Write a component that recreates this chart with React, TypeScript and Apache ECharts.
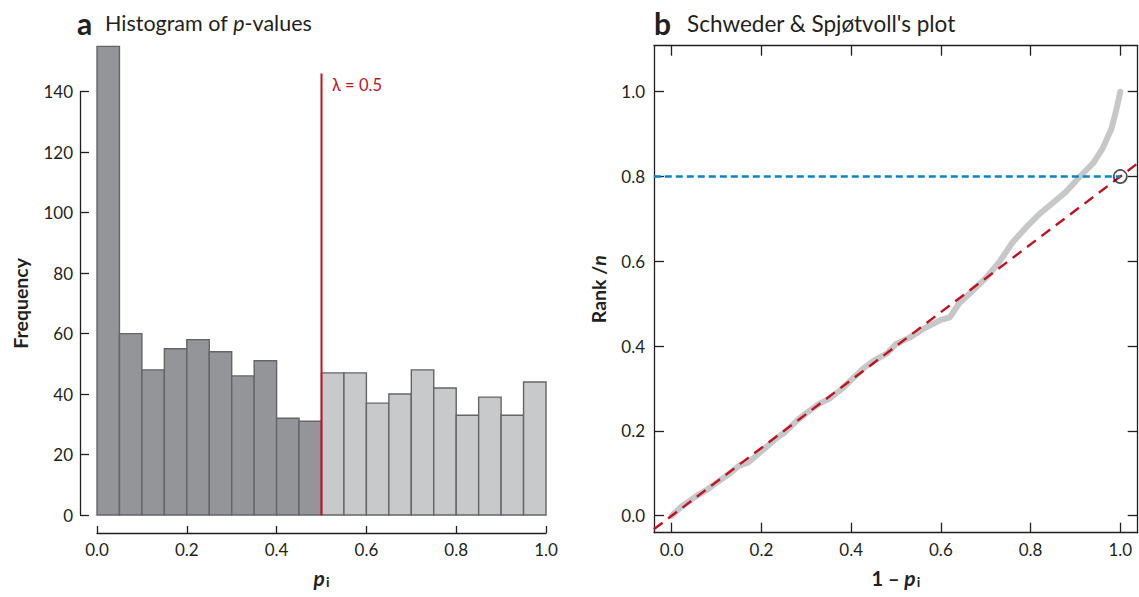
import React, { useEffect, useRef } from "react";
import * as echarts from "echarts";

// ---------- data ----------
const binLefts = [0, 0.05, 0.1, 0.15, 0.2, 0.25, 0.3, 0.35, 0.4, 0.45, 0.5, 0.55, 0.6, 0.65, 0.7, 0.75, 0.8, 0.85, 0.9, 0.95];
const binWidth = 0.05;
const frequencies = [155, 60, 48, 55, 58, 54, 46, 51, 32, 31, 47, 47, 37, 40, 48, 42, 33, 39, 33, 44];
const lambda = 0.5;
const lambdaLineTop = 146;
const freqTicks = [0, 20, 40, 60, 80, 100, 120, 140];
const pTicks = [0, 0.2, 0.4, 0.6, 0.8, 1.0];
const rankTicks = [0, 0.2, 0.4, 0.6, 0.8, 1.0];

const oneMinusP = [0, 0.02, 0.04, 0.06, 0.08, 0.1, 0.13, 0.15, 0.17, 0.2, 0.23, 0.25, 0.28, 0.3, 0.33, 0.35, 0.38, 0.4, 0.43, 0.45, 0.48, 0.5, 0.53, 0.56, 0.6, 0.62, 0.64, 0.67, 0.7, 0.73, 0.76, 0.79, 0.82, 0.85, 0.88, 0.91, 0.94, 0.96, 0.98, 0.99, 1.0];
const rankOverN = [0, 0.02, 0.035, 0.05, 0.062, 0.078, 0.1, 0.118, 0.125, 0.152, 0.18, 0.195, 0.225, 0.242, 0.265, 0.275, 0.3, 0.32, 0.35, 0.365, 0.383, 0.405, 0.42, 0.44, 0.462, 0.468, 0.5, 0.53, 0.56, 0.598, 0.645, 0.68, 0.712, 0.738, 0.765, 0.8, 0.832, 0.865, 0.912, 0.952, 1.0];
const refLine = [[-0.04, -0.032], [1.04, 0.832]];
const thresholdLine = [[-0.04, 0.8], [1.0, 0.8]];
const markedPoint = [1.0, 0.8];

const rightX = { min: -0.0395, max: 1.0388 };
const rightY = { min: -0.04, max: 1.1085 };

const FONT = "Lato";
const INK = "#231f20";
const RED = "#c1121f";
const BLUE = "#0a84c8";

export default function App() {
  const ref = useRef<HTMLDivElement>(null);
  useEffect(() => {
    document.body.style.margin = "0";
    const chart = echarts.init(ref.current!, null, { renderer: "svg" });

    const axisLineStyle = { color: INK, width: 1.3 };
    const tickLabel = { color: INK, fontSize: 17, fontFamily: FONT };

    const option: any = {
      animation: false,
      textStyle: { fontFamily: FONT },
      grid: [
        { left: 97, right: 593, top: 91.7, bottom: 82, containLabel: false },
        { left: 654, right: 1.3, top: 45.7, bottom: 64.3, containLabel: false },
      ],
      xAxis: [
        {
          gridIndex: 0, type: "value", min: 0, max: 1, interval: 0.2, offset: 18,
          axisLine: { show: true, onZero: false, lineStyle: axisLineStyle },
          axisTick: { show: true, inside: true, length: 7, lineStyle: axisLineStyle },
          axisLabel: { ...tickLabel, margin: 8, formatter: (v: number) => v.toFixed(1) },
          splitLine: { show: false },
          name: "{p|p}{s|i}", nameLocation: "middle", nameGap: 33,
          nameTextStyle: {
            rich: {
              p: { fontSize: 21, fontWeight: "bold", fontStyle: "italic", color: INK, fontFamily: FONT },
              s: { fontSize: 14, fontWeight: "bold", color: INK, fontFamily: FONT, padding: [8, 0, 0, 1] },
            },
          },
        },
        {
          gridIndex: 1, type: "value", min: rightX.min, max: rightX.max, position: "bottom",
          axisLine: { show: true, onZero: false, lineStyle: axisLineStyle },
          axisTick: { show: true, inside: true, length: 10, lineStyle: axisLineStyle, customValues: pTicks },
          axisLabel: { ...tickLabel, margin: 8, customValues: pTicks, formatter: (v: number) => v.toFixed(1) },
          splitLine: { show: false },
          name: "{t|1 – }{p|p}{s|i}", nameLocation: "middle", nameGap: 34,
          nameTextStyle: {
            rich: {
              t: { fontSize: 20, fontWeight: "bold", color: INK, fontFamily: FONT },
              p: { fontSize: 21, fontWeight: "bold", fontStyle: "italic", color: INK, fontFamily: FONT },
              s: { fontSize: 14, fontWeight: "bold", color: INK, fontFamily: FONT, padding: [8, 0, 0, 1] },
            },
          },
        },
        {
          gridIndex: 1, type: "value", min: rightX.min, max: rightX.max, position: "top",
          axisLine: { show: true, onZero: false, lineStyle: axisLineStyle },
          axisTick: { show: true, inside: true, length: 10, lineStyle: axisLineStyle, customValues: pTicks },
          axisLabel: { show: false },
          splitLine: { show: false },
        },
      ],
      yAxis: [
        {
          gridIndex: 0, type: "value", min: 0, max: 140, interval: 20, offset: 17,
          axisLine: { show: true, onZero: false, lineStyle: axisLineStyle },
          axisTick: { show: true, inside: true, length: 9, lineStyle: axisLineStyle },
          axisLabel: { ...tickLabel, margin: 7 },
          splitLine: { show: false },
          name: "Frequency", nameLocation: "middle", nameGap: 50, nameRotate: 90,
          nameTextStyle: { fontSize: 19.5, fontWeight: "bold", color: INK, fontFamily: FONT },
        },
        {
          gridIndex: 1, type: "value", min: rightY.min, max: rightY.max, position: "left",
          axisLine: { show: true, onZero: false, lineStyle: axisLineStyle },
          axisTick: { show: true, inside: true, length: 10, lineStyle: axisLineStyle, customValues: rankTicks },
          axisLabel: { ...tickLabel, margin: 9, customValues: rankTicks, formatter: (v: number) => v.toFixed(1) },
          splitLine: { show: false },
          name: "{t|Rank /}{n|n}", nameLocation: "middle", nameGap: 46, nameRotate: 90,
          nameTextStyle: {
            rich: {
              t: { fontSize: 19.5, fontWeight: "bold", color: INK, fontFamily: FONT },
              n: { fontSize: 19.5, fontWeight: "bold", fontStyle: "italic", color: INK, fontFamily: FONT },
            },
          },
        },
        {
          gridIndex: 1, type: "value", min: rightY.min, max: rightY.max, position: "right",
          axisLine: { show: true, onZero: false, lineStyle: axisLineStyle },
          axisTick: { show: true, inside: true, length: 10, lineStyle: axisLineStyle, customValues: rankTicks },
          axisLabel: { show: false },
          splitLine: { show: false },
        },
      ],
      series: [
        {
          type: "custom",
          xAxisIndex: 0, yAxisIndex: 0,
          clip: false,
          encode: { x: [0, 1], y: 2 },
          data: binLefts.map((l, i) => [l, l + binWidth, frequencies[i]]),
          renderItem: (params: any, api: any) => {
            const a = api.coord([api.value(0), api.value(2)]);
            const b = api.coord([api.value(1), 0]);
            return {
              type: "rect",
              shape: { x: a[0], y: a[1], width: b[0] - a[0], height: b[1] - a[1] },
              style: {
                fill: api.value(0) < lambda ? "#939598" : "#c8c9cb",
                stroke: "#646567",
                lineWidth: 1.4,
              },
            };
          },
          z: 2,
        },
        {
          type: "line", xAxisIndex: 0, yAxisIndex: 0,
          data: [[lambda, 0], [lambda, lambdaLineTop]],
          symbol: "none", clip: false,
          lineStyle: { color: RED, width: 2 },
          z: 5,
        },
        {
          type: "line", xAxisIndex: 1, yAxisIndex: 1,
          data: oneMinusP.map((x, i) => [x, rankOverN[i]]),
          symbol: "none",
          lineStyle: { color: "#c6c7c8", width: 6, cap: "round", join: "round" },
          z: 2,
        },
        {
          type: "line", xAxisIndex: 1, yAxisIndex: 1,
          data: refLine, symbol: "none",
          lineStyle: { color: RED, width: 2.4, type: [11, 7] },
          z: 3,
        },
        {
          type: "line", xAxisIndex: 1, yAxisIndex: 1,
          data: thresholdLine, symbol: "none",
          lineStyle: { color: BLUE, width: 2.5, type: [7, 4] },
          z: 3,
        },
        {
          type: "scatter", xAxisIndex: 1, yAxisIndex: 1,
          data: [markedPoint], symbol: "circle", symbolSize: 13,
          itemStyle: { color: "rgba(255,255,255,0)", borderColor: INK, borderWidth: 1.7 },
          z: 6,
        },
      ],
      graphic: [
        { type: "text", left: 77, top: 8, style: { text: "a", fontSize: 30, fontWeight: "bold", fill: INK, fontFamily: FONT } },
        {
          type: "text", left: 105, top: 12,
          style: {
            text: "{t|Histogram of }{i|p}{t|-values}",
            rich: {
              t: { fontSize: 21.5, fill: INK, fontFamily: FONT },
              i: { fontSize: 21.5, fill: INK, fontFamily: FONT, fontStyle: "italic" },
            },
          },
        },
        { type: "text", left: 654, top: 8, style: { text: "b", fontSize: 30, fontWeight: "bold", fill: INK, fontFamily: FONT } },
        { type: "text", left: 687, top: 12, style: { text: "Schweder & Spjøtvoll's plot", fontSize: 22.5, fill: INK, fontFamily: FONT } },
        { type: "text", left: 332, top: 76, style: { text: "λ = 0.5", fontSize: 16.5, fill: RED, fontFamily: FONT } },
      ],
    };
    chart.setOption(option);
    return () => chart.dispose();
  }, []);
  return <div ref={ref} style={{ width: 1139, height: 597 }} />;
}
